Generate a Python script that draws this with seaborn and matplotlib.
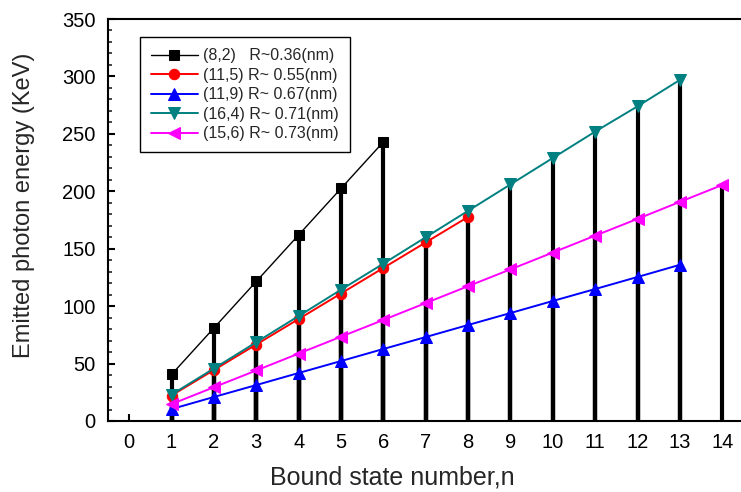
import matplotlib
matplotlib.use("Agg")
import matplotlib.pyplot as plt
import pandas as pd
import seaborn as sns
from matplotlib.ticker import MultipleLocator

# Emitted photon energy (KeV) for each bound state n, per nanotube
n_82 = [1, 2, 3, 4, 5, 6]
e_82 = [40.5, 81, 121.5, 162, 202.5, 243]

n_115 = [1, 2, 3, 4, 5, 6, 7, 8]
e_115 = [22.2, 44.4, 66.6, 88.8, 111, 133.3, 155.5, 177.7]

n_119 = [1, 2, 3, 4, 5, 6, 7, 8, 9, 10, 11, 12, 13]
e_119 = [10.4, 20.9, 31.3, 41.8, 52.2, 62.7, 73.1, 83.6, 94, 104.5, 114.9, 125.4, 136]

n_164 = [1, 2, 3, 4, 5, 6, 7, 8, 9, 10, 11, 12, 13]
e_164 = [23, 45.7, 68.6, 91.4, 114.3, 137, 160, 183, 206, 229, 252, 274, 297]

n_156 = [1, 2, 3, 4, 5, 6, 7, 8, 9, 10, 11, 12, 13, 14]
e_156 = [14.7, 29.4, 44, 58.7, 73.4, 88, 102.7, 117.4, 132, 146.7, 161.4, 176, 190.8, 205.5]

labels = [
    "(8,2)   R~0.36(nm)",
    "(11,5) R~ 0.55(nm)",
    "(11,9) R~ 0.67(nm)",
    "(16,4) R~ 0.71(nm)",
    "(15,6) R~ 0.73(nm)",
]
x_ticks = list(range(0, 15))
y_ticks = list(range(0, 351, 50))

series = [
    (n_82, e_82, labels[0], "black", "s", 7.5, 1.0),
    (n_115, e_115, labels[1], "#ff0000", "o", 7.5, 1.4),
    (n_119, e_119, labels[2], "#0000ff", "^", 9, 1.4),
    (n_164, e_164, labels[3], "#008080", "v", 9, 1.4),
    (n_156, e_156, labels[4], "#ff00ff", "<", 9, 1.4),
]

sns.set_style("ticks")
plt.rcParams["font.family"] = ["Liberation Sans", "DejaVu Sans"]

fig = plt.figure(figsize=(7.41, 4.92), dpi=100)
ax = fig.add_axes([108 / 741, 71 / 492, 635.5 / 741, 402 / 492])

# drop lines from every point down to the axis
for n, e, *_ in series:
    ax.vlines(n, 0, e, colors="black", linewidth=3.0, zorder=1)

handles = []
for n, e, lab, col, mk, ms, lw in series:
    df = pd.DataFrame({"n": n, "energy": e})
    sns.lineplot(data=df, x="n", y="energy", ax=ax, color=col, marker=mk,
                 markersize=ms, markeredgecolor=col, linewidth=lw,
                 label=lab, zorder=3, legend=False)
    handles.append(ax.lines[-1])

ax.set_xlim(-0.5, 14.5)
ax.set_ylim(0, 350)
ax.set_xticks(x_ticks)
ax.set_yticks(y_ticks)
ax.yaxis.set_minor_locator(MultipleLocator(10))

for side in ["left", "bottom", "top", "right"]:
    ax.spines[side].set_linewidth(1.5)
    ax.spines[side].set_color("black")

ax.tick_params(axis="both", which="major", direction="in", length=5,
               width=1.5, labelsize=14.5, colors="black", pad=9)
ax.tick_params(axis="y", which="minor", direction="in", length=3, width=1.2)

ax.set_xlabel("Bound state number,n", fontsize=18)
ax.set_ylabel("Emitted photon energy (KeV)", fontsize=17)
ax.xaxis.set_label_coords(0.448, -0.159)
ax.xaxis.label.set_va("baseline")
ax.yaxis.set_label_coords(-0.132, 0.537)
ax.yaxis.label.set_va("center")
ax.yaxis.label.set_ha("center")

leg = ax.legend(handles, labels, loc="upper left",
                bbox_to_anchor=(0.0504, 0.955), borderaxespad=0,
                fontsize=11.5, handlelength=2.9, handletextpad=0.35,
                labelspacing=0.28, borderpad=0.7, fancybox=False,
                framealpha=1, edgecolor="black")
leg.get_frame().set_linewidth(1.0)

fig.savefig("out.png", dpi=100)
